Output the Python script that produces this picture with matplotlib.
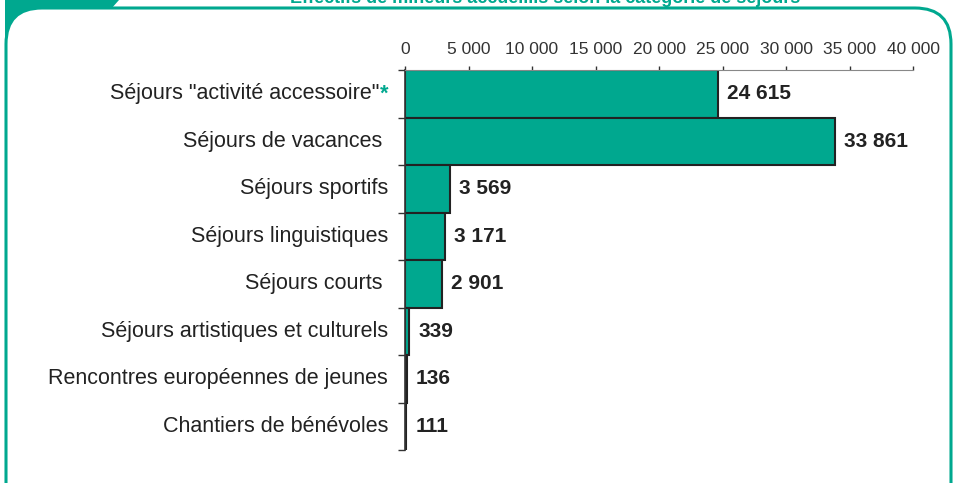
import matplotlib.pyplot as plt
from matplotlib.patches import FancyBboxPatch, Polygon
from matplotlib.ticker import FuncFormatter

# données
categories = ['Séjours "activité accessoire"', 'Séjours de vacances ', 'Séjours sportifs',
              'Séjours linguistiques', 'Séjours courts ', 'Séjours artistiques et culturels',
              'Rencontres européennes de jeunes', 'Chantiers de bénévoles']
valeurs = [24615, 33861, 3569, 3171, 2901, 339, 136, 111]
xticks = [0, 5000, 10000, 15000, 20000, 25000, 30000, 35000, 40000]
titre = "Effectifs de mineurs accueillis selon la catégorie de séjours"

vert = '#00a88f'
W, H = 955, 483

plt.rcParams['font.family'] = ['Liberation Sans', 'DejaVu Sans']
fig = plt.figure(figsize=(W / 100, H / 100), dpi=100)

def px(x, y):
    # pixels depuis le haut -> pouces
    return x / 100, (H - y) / 100

# cadre
tr = fig.dpi_scale_trans
onglet = Polygon([px(5, 0), px(119, 0), px(111, 9), px(5, 60)], closed=True,
                 facecolor=vert, edgecolor='none', transform=tr, zorder=0)
fig.patches.append(onglet)
x0, y0 = px(6, 600)
cadre = FancyBboxPatch((x0, y0), 9.45, (600 - 8) / 100,
                       boxstyle="round,pad=0,rounding_size=0.36",
                       facecolor='white', edgecolor=vert, linewidth=2.2,
                       transform=tr, zorder=1)
fig.patches.append(cadre)
fig.text(545 / W, 1 - 3 / H, titre, color=vert, fontsize=13, fontweight='bold',
         ha='center', va='baseline')

ax = fig.add_axes([405 / W, 1 - 450 / H, (913 - 405) / W, (450 - 70) / H])
ax.set_zorder(2)
ax.patch.set_alpha(0)

pos = list(range(len(categories)))
ax.barh(pos, valeurs, height=1.0, color=vert, edgecolor='#222222', linewidth=1.5)
ax.set_xlim(0, 40000)
ax.set_ylim(len(categories) - 0.5, -0.5)

ax.xaxis.tick_top()
ax.set_xticks(xticks)
ax.xaxis.set_major_formatter(FuncFormatter(lambda v, p: f"{int(v):,}".replace(',', ' ')))
ax.tick_params(axis='x', length=3, width=1, color='#333333', pad=6.5,
               labelsize=12.5, labelcolor='#333333')

ax.set_yticks(pos)
ax.set_yticklabels([])
ax.tick_params(axis='y', which='major', length=0)
ax.set_yticks([p - 0.5 for p in pos] + [len(pos) - 0.5], minor=True)
ax.tick_params(axis='y', which='minor', length=5, width=1, color='#333333')

for s in ['right', 'bottom']:
    ax.spines[s].set_visible(False)
ax.spines['top'].set_color('#888888')
ax.spines['left'].set_color('#333333')
ax.spines['left'].set_linewidth(1.2)

# libellés
fs = 15.5
for i, c in enumerate(categories):
    if i == 0:
        ast = ax.annotate('*', xy=(0, i), xytext=(-17, 0), textcoords='offset pixels',
                          ha='right', va='center', fontsize=fs, fontweight='bold', color=vert)
        ax.annotate(c, xy=(0, 0.5), xycoords=ast, ha='right', va='center',
                    fontsize=fs, color='#222222')
    else:
        ax.annotate(c, xy=(0, i), xytext=(-17, 0), textcoords='offset pixels',
                    ha='right', va='center', fontsize=fs, color='#222222')

for i, v in enumerate(valeurs):
    ax.annotate(f"{v:,}".replace(',', ' '), xy=(v, i), xytext=(9, 0),
                textcoords='offset pixels', ha='left', va='center',
                fontsize=15, fontweight='bold', color='#222222')

fig.savefig('out.png', dpi=100)
